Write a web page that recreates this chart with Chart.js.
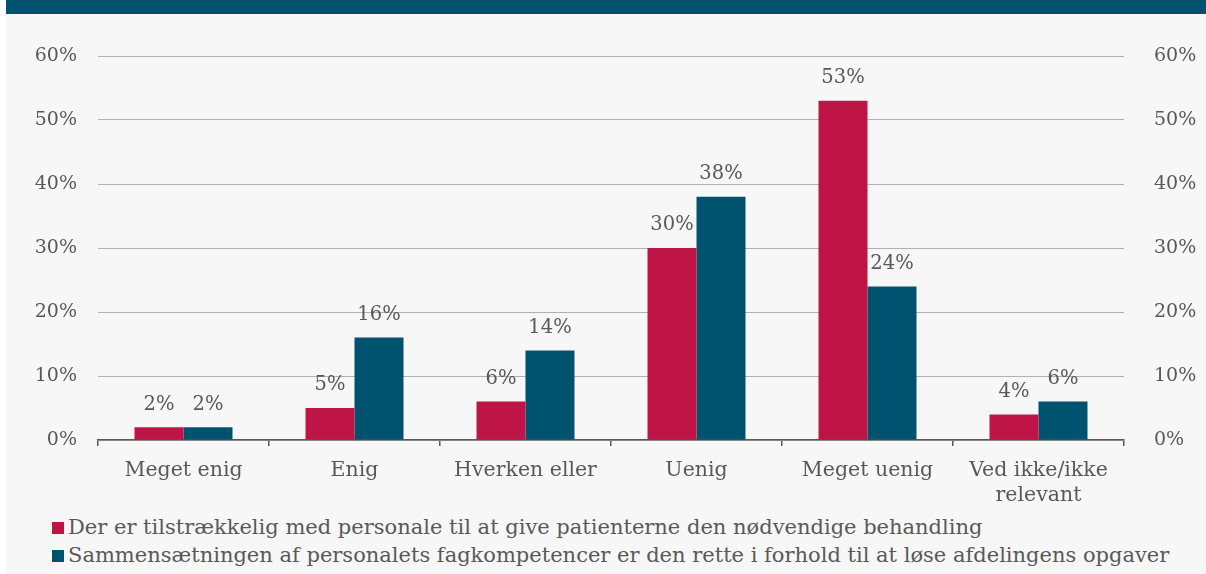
<!DOCTYPE html>
<html lang="da">
<head>
  <meta charset="UTF-8" />
  <title>Personale og fagkompetencer</title>
  <script src="https://cdn.jsdelivr.net/npm/chart.js"></script>
  <style>
    body {
      margin: 0;
      background: #fff;
      font-family: 'DejaVu Serif', serif;
    }
    .page {
      position: absolute;
      left: 6px;
      top: 0;
      width: 1200px;
      height: 574px;
      background: #f7f7f7;
      overflow: hidden;
    }
    .banner {
      position: absolute;
      left: 0;
      top: 0;
      width: 100%;
      height: 14px;
      background: #00536f;
    }
    .legend {
      position: absolute;
      left: 46px;
      top: 513px;
      color: #595959;
      font-size: 21px;
      line-height: 28px;
      white-space: nowrap;
    }
    .legend span.box {
      display: inline-block;
      width: 12px;
      height: 12px;
      margin-right: 4px;
      vertical-align: 0px;
    }
  </style>
</head>
<body>
  <div class="page">
    <div class="banner"></div>
    <div class="legend" id="legend"></div>
  </div>
  <div style="position:absolute;left:0;top:0;width:1206px;height:574px;">
    <canvas id="chart" width="1206" height="574"></canvas>
  </div>

  <script>
    const categories = ['Meget enig', 'Enig', 'Hverken eller', 'Uenig', 'Meget uenig', ['Ved ikke/ikke', 'relevant']];
    const seriesNames = [
      'Der er tilstrækkelig med personale til at give patienterne den nødvendige behandling',
      'Sammensætningen af personalets fagkompetencer er den rette i forhold til at løse afdelingens opgaver'
    ];
    const personaleValues = [2, 5, 6, 30, 53, 4];
    const kompetenceValues = [2, 16, 14, 38, 24, 6];
    const colors = ['#be1546', '#00536f'];

    const textColor = '#595959';
    const tickFont = { family: 'DejaVu Serif', size: 19 };
    const catFont = { family: 'DejaVu Serif', size: 20.5, lineHeight: 1.22 };

    // value labels above each bar
    const barLabels = {
      id: 'barLabels',
      afterDatasetsDraw(chart) {
        const ctx = chart.ctx;
        ctx.save();
        ctx.font = '19.5px "DejaVu Serif"';
        ctx.fillStyle = textColor;
        ctx.textAlign = 'center';
        ctx.textBaseline = 'bottom';
        chart.data.datasets.forEach((ds, i) => {
          chart.getDatasetMeta(i).data.forEach((bar, j) => {
            ctx.fillText(ds.data[j] + '%', bar.x, bar.y - 13);
          });
        });
        ctx.restore();
      }
    };

    new Chart(document.getElementById('chart'), {
      type: 'bar',
      data: {
        labels: categories,
        datasets: [
          { label: seriesNames[0], data: personaleValues, backgroundColor: colors[0], yAxisID: 'y' },
          { label: seriesNames[1], data: kompetenceValues, backgroundColor: colors[1], yAxisID: 'y' }
        ]
      },
      options: {
        responsive: false,
        animation: false,
        layout: { padding: { top: 56, bottom: 0, left: 0, right: 0 } },
        datasets: { bar: { barPercentage: 1, categoryPercentage: 0.573 } },
        plugins: {
          legend: { display: false },
          tooltip: { enabled: false }
        },
        scales: {
          x: {
            grid: { drawOnChartArea: false, drawTicks: true, tickLength: 6, color: textColor, lineWidth: 1.5 },
            border: { color: textColor, width: 1.5 },
            ticks: { color: textColor, font: catFont, padding: 12, maxRotation: 0, autoSkip: false },
            afterFit(scale) { scale.height = 134; }
          },
          y: {
            position: 'left',
            min: 0,
            max: 60,
            grid: { drawTicks: false, color: '#b0b0b0', lineWidth: 1 },
            border: { display: false },
            ticks: { stepSize: 10, color: textColor, font: tickFont, padding: 21, callback: v => v + '%' },
            afterFit(scale) { scale.width = 98; }
          },
          y2: {
            position: 'right',
            min: 0,
            max: 60,
            grid: { display: false },
            border: { display: false },
            ticks: { stepSize: 10, color: textColor, font: tickFont, padding: 22, callback: v => v + '%' },
            afterFit(scale) { scale.width = 82; }
          }
        }
      },
      plugins: [barLabels]
    });

    const legend = document.getElementById('legend');
    seriesNames.forEach((name, i) => {
      const row = document.createElement('div');
      row.innerHTML = `<span class="box" style="background:${colors[i]}"></span>${name}`;
      legend.appendChild(row);
    });
  </script>
</body>
</html>
